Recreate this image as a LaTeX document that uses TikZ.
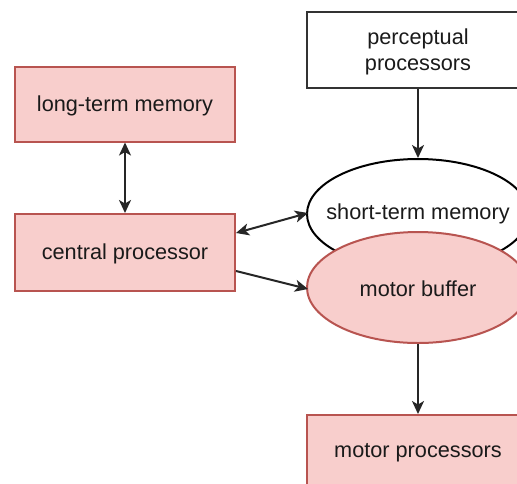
\documentclass[tikz,border=0pt]{standalone}
\usepackage{fontspec}
\setmainfont{Liberation Sans}
\usetikzlibrary{arrows.meta,shapes.geometric}
\definecolor{redfill}{HTML}{F8CECC}
\definecolor{reddraw}{HTML}{B85450}
\definecolor{txt}{HTML}{1A1A1A}
\begin{document}
\begin{tikzpicture}[x=1pt,y=-1pt,
  every node/.style={font=\fontsize{21.7}{26}\selectfont, text=txt},
  redbox/.style={draw=reddraw, fill=redfill, line width=2pt, minimum width=220pt, minimum height=75pt, inner sep=0pt},
  whitebox/.style={draw=black!80, fill=white, line width=2pt, minimum width=222pt, minimum height=76pt, inner sep=0pt, align=center},
  redell/.style={ellipse, draw=reddraw, fill=redfill, line width=2pt, minimum width=222pt, minimum height=111pt, inner sep=0pt},
  whiteell/.style={ellipse, draw=black, fill=white, line width=2pt, minimum width=222pt, minimum height=110pt, inner sep=0pt},
  lbl/.style={inner sep=0pt, align=center},
  arr/.style={line width=2pt, draw=black!85, -{Stealth[length=13pt,width=12pt,inset=3.5pt]}},
  darr/.style={line width=2pt, draw=black!85, {Stealth[length=13pt,width=12pt,inset=3.5pt]}-{Stealth[length=13pt,width=12pt,inset=3.5pt]}}]
\useasboundingbox (0,0) rectangle (517,483);
\clip (0,0) rectangle (517,483);
\fill[white] (0,0) rectangle (517,483);
\node[whitebox] (pp) at (418,50) {};
\node[lbl] (ppt) at (418,52) {perceptual\\processors};
\node[redbox] (ltm) at (125,104) {};
\node[lbl] (ltmt) at (125,106) {long-term memory};
\node[redbox, minimum height=77pt] (cp) at (125,252.5) {};
\node[lbl] (cpt) at (125,253.5) {central processor};
\node[whiteell] (stm) at (418,214) {};
\node[lbl] (stmt) at (418,214) {short-term memory};
\node[redell] (mb) at (418,287.5) {};
\node[lbl] (mbt) at (418,288.5) {motor buffer};
\node[redbox, minimum width=222pt, minimum height=76pt] (mp) at (418,453) {};
\node[lbl] (mpt) at (418,453) {motor processors};
\draw[darr] (ltm.south) -- (cp.north);
\draw[arr] (pp.south) -- (stm.north);
\coordinate (cpa) at (236,233);
\coordinate (stma) at (308,213);
\draw[darr] (cpa) -- (stma);
\coordinate (cpb) at (236,271);
\coordinate (mba) at (308,289);
\draw[arr] (cpb) -- (mba);
\draw[arr] (mb.south) -- (mp.north);
\end{tikzpicture}
\end{document}
